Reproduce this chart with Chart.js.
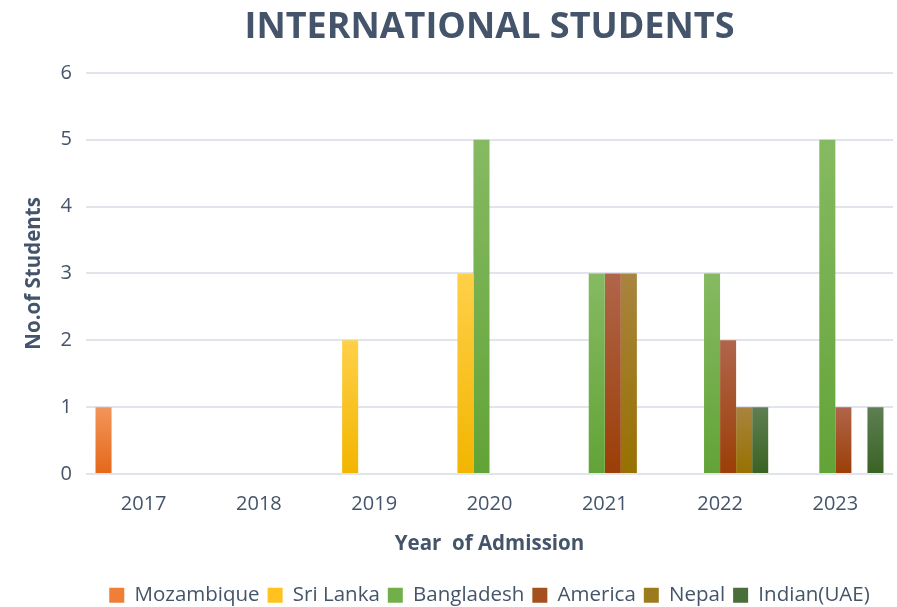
<!DOCTYPE html>
<html><head><meta charset="utf-8">
<script src="https://cdn.jsdelivr.net/npm/chart.js@4"></script>
<style>html,body{margin:0;padding:0;background:#fff}#wrap{width:897px;height:607px;position:relative}</style>
</head><body><div id="wrap"><canvas id="c"></canvas></div>
<script>
const categories = ['2017','2018','2019','2020','2021','2022','2023'];
const seriesNames = ['Mozambique','Sri Lanka','Bangladesh','America','Nepal','Indian(UAE)'];
const mozambique = [1,0,0,0,0,0,0];
const sriLanka   = [0,0,2,3,0,0,0];
const bangladesh = [0,0,0,5,3,3,5];
const america    = [0,0,0,0,3,2,1];
const nepal      = [0,0,0,0,3,1,0];
const indianUAE  = [0,0,0,0,0,1,1];
const yTicks = [0,1,2,3,4,5,6];

const topColors    = ['#F2955A','#FFD049','#86BA62','#B0654A','#A8843F','#5E7F52'];
const bottomColors = ['#E5671A','#F2B500','#62A337','#9B3E07','#977100','#3A6224'];
const midColors    = ['#EE7E38','#FFC21F','#72AF4A','#A4501F','#9E7A1F','#4A6E39'];
const TEXT = '#44546A';

function grad(top, bottom){
  return function(ctx){
    const chart = ctx.chart;
    if (ctx.type !== 'data' || !chart.chartArea || !chart.scales.y) return bottom;
    const ys = chart.scales.y;
    const v = ctx.parsed ? ctx.parsed.y : ctx.raw;
    const y0 = ys.getPixelForValue(v), y1 = ys.getPixelForValue(0);
    if (!(y1 - y0 > 0.5)) return bottom;
    const g = chart.ctx.createLinearGradient(0, y0, 0, y1);
    g.addColorStop(0, top); g.addColorStop(1, bottom);
    return g;
  };
}

const allSeries = [mozambique, sriLanka, bangladesh, america, nepal, indianUAE];
const datasets = allSeries.map((d,i)=>({
  label: seriesNames[i],
  data: d,
  backgroundColor: grad(topColors[i], bottomColors[i]),
  borderWidth: 0,
  categoryPercentage: 0.835,
  barPercentage: 1.0
}));

const FONT = "'Open Sans', 'DejaVu Sans', sans-serif";

const legendShift = {
  id: 'legendShift',
  beforeLayout(chart){
    const lg = chart.legend;
    if (lg && !lg._patched){
      const f = lg.fit.bind(lg);
      lg.fit = function(){ f(); this.height -= 8.5; };
      lg._patched = true;
    }
  }
};

new Chart(document.getElementById('c'), {
  type: 'bar',
  data: { labels: categories, datasets },
  plugins: [legendShift],
  options: {
    responsive: true,
    maintainAspectRatio: false,
    animation: false,
    layout: { padding: { left: 0, right: 4, top: 0, bottom: 0 } },
    plugins: {
      title: {
        display: true,
        fullSize: false,
        text: 'INTERNATIONAL STUDENTS',
        color: TEXT,
        font: { family: FONT, size: 36, weight: 'bold' },
        padding: { top: 6, bottom: 23.6 }
      },
      legend: {
        position: 'bottom',
        fullSize: false,
        labels: {
          color: TEXT,
          font: { family: FONT, size: 20.5 },
          boxWidth: 15, boxHeight: 15,
          padding: 8,
          generateLabels(chart){
            const items = Chart.defaults.plugins.legend.labels.generateLabels(chart);
            items.forEach((it,i)=>{ it.fillStyle = midColors[i]; it.strokeStyle = midColors[i]; it.lineWidth = 0; });
            return items;
          }
        }
      },
      tooltip: { enabled: false }
    },
    scales: {
      x: {
        afterFit(s){ s.height = 103; },
        grid: { display: false, drawTicks: false },
        border: { display: false },
        ticks: { color: TEXT, font: { family: FONT, size: 20 }, padding: 18 },
        title: { display: true, text: 'Year  of Admission', color: TEXT, font: { family: FONT, size: 20.5, weight: 'bold' }, padding: { top: 4, bottom: 20.7 } }
      },
      y: {
        min: 0, max: 6,
        afterBuildTicks(s){ s.ticks = yTicks.map(v=>({value:v})); },
        afterFit(s){ s.width = 86; },
        grid: { color: '#E1E4EA', lineWidth: 2, drawTicks: false },
        border: { display: false },
        ticks: { color: TEXT, font: { family: FONT, size: 20 }, padding: 14 },
        title: { display: true, text: 'No.of Students', color: TEXT, font: { family: FONT, size: 20.5, weight: 'bold' }, padding: { top: 22, bottom: 0 } }
      }
    }
  }
});
</script>
</body></html>
